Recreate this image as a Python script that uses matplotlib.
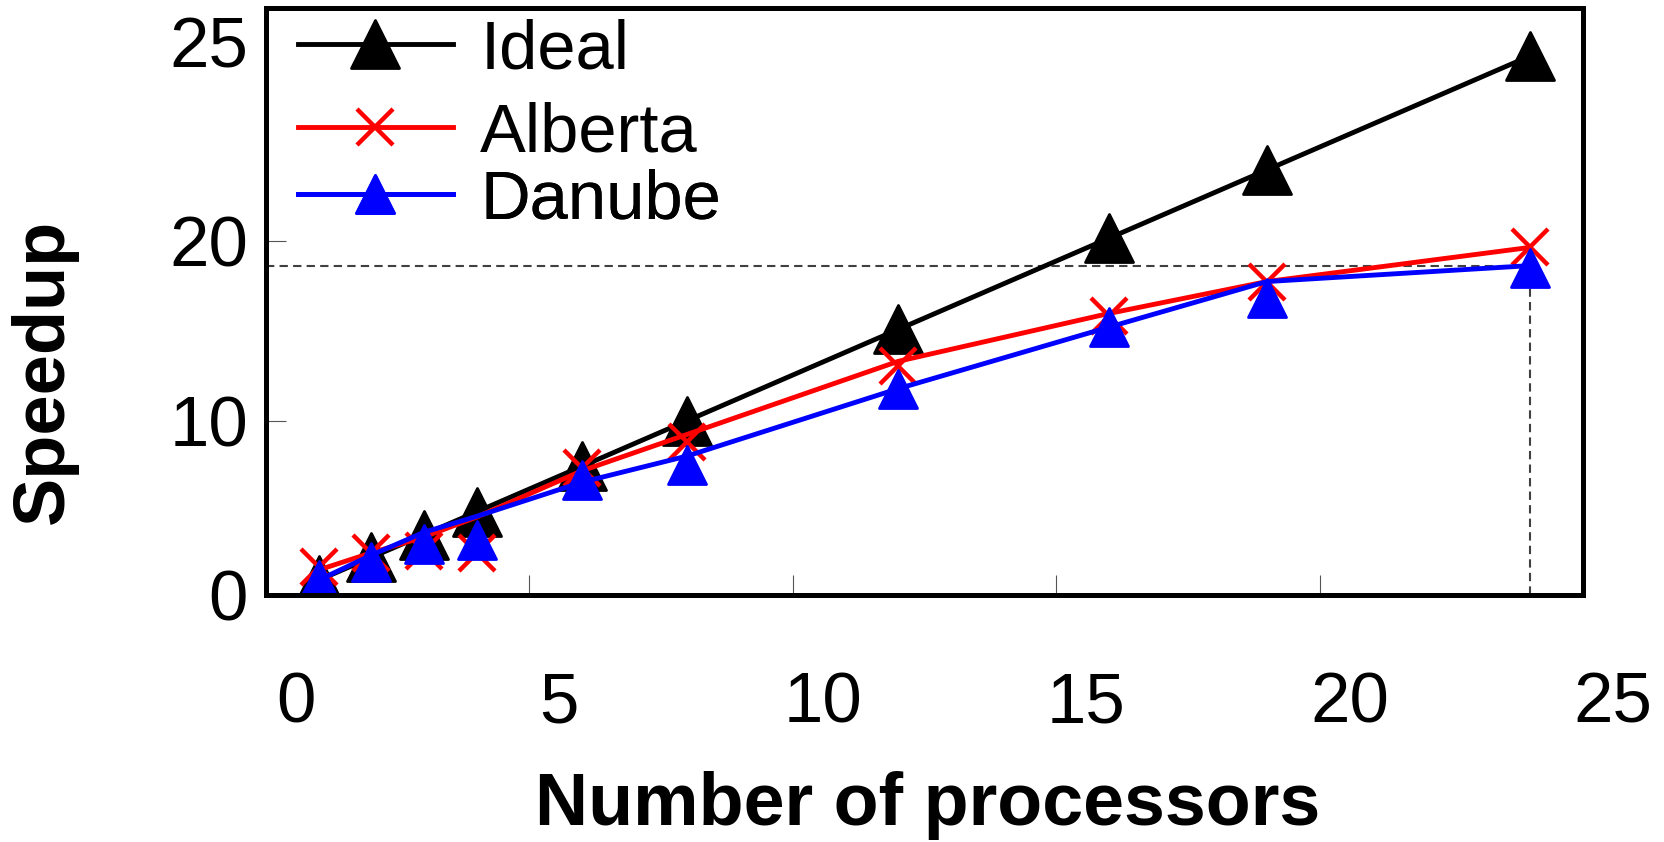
import matplotlib
matplotlib.use('Agg')
from matplotlib import pyplot as plt
from matplotlib.lines import Line2D
from matplotlib.markers import MarkerStyle
from matplotlib.transforms import ScaledTranslation

plt.rcParams['font.family'] = ['Liberation Sans', 'DejaVu Sans']

# values
procs = [1, 2, 3, 4, 6, 8, 12, 16, 19, 24]
ideal = [1, 2, 3, 4, 6, 8, 12, 16, 19, 24]
alberta_line = [1.45, 2.2, 2.9, 3.77, 5.8, 7.4, 10.6, 12.7, 14.1, 15.6]
alberta_pts = [1.6, 2.2, 2.3, 2.2, 5.9, 7.05, 10.4, 12.6, 14.1, 15.6]
danube_line = [1.0, 2.1, 3.1, 3.8, 5.3, 6.45, 9.4, 12.1, 14.1, 14.8]
danube_pts = [1.0, 1.8, 2.6, 2.76, 5.4, 6.05, 9.4, 12.1, 13.4, 14.7]

xtick_vals = [0, 5, 10, 15, 20, 25]
ytick_vals = [0.35, 7.98, 15.9, 24.6]
ytick_labs = ['0', '10', '20', '25']

W, H = 1664, 842
fig = plt.figure(figsize=(W/100, H/100), dpi=100)
ax = fig.add_axes([266/W, 1-595/H, 1317/W, 587/H])

tri = MarkerStyle('^', joinstyle='round')
lw = 3.5
big, small = 34, 27

ax.plot(procs, ideal, color='k', lw=lw, zorder=3)
ax.plot(procs, ideal, ls='none', marker=tri, ms=big, mfc='k', mec='k', mew=2, zorder=3)
ax.plot(procs, alberta_line, color='#ff0000', lw=lw, zorder=4)
ax.plot(procs, alberta_pts, ls='none', marker='x', ms=26, mec='#ff0000', mew=3.2, zorder=4)
ax.plot(procs, danube_line, color='#0000ff', lw=lw, zorder=5)
ax.plot(procs, danube_pts, ls='none', marker=tri, ms=small, mfc='#0000ff', mec='#0000ff', mew=2, zorder=5)

ax.set_xlim(0, 25)
ax.set_ylim(0.35, 26.1)

# dashed guide at the last Danube value
y0 = ax.get_ylim()[0]
ax.plot([0, procs[-1], procs[-1]], [danube_line[-1], danube_line[-1], y0],
        ls=(0, (4, 2.5)), color='#404040', lw=1.5, zorder=2)

for s in ax.spines.values():
    s.set_linewidth(3.6)
    s.set_zorder(10)

ax.set_xticks(xtick_vals)
ax.set_xticklabels([str(v) for v in xtick_vals])
ax.set_yticks(ytick_vals)
ax.set_yticklabels(ytick_labs)
ax.tick_params(axis='both', direction='in', length=14.4, width=0.8, color='#555555',
               labelsize=51)
ax.tick_params(axis='x', pad=55)
ax.tick_params(axis='y', pad=13)
ax.yaxis.get_major_ticks()[-1].tick1line.set_visible(False)
shift = ScaledTranslation(0.30, 0, fig.dpi_scale_trans)
for lab in ax.get_xticklabels():
    lab.set_transform(lab.get_transform() + shift)

fig.text(928/W, 1-825/H, 'Number of processors', ha='center', va='baseline',
         fontsize=53, fontweight='bold')
fig.text(44/W, 1-371/H, 'Speedup', ha='center', va='center', rotation=90,
         fontsize=52, fontweight='bold')

# legend: one entry per box so the rows sit where they do in the original
entries = [
    (Line2D([], [], color='k', lw=lw, marker=tri, ms=big, mfc='k', mec='k', mew=2), 'Ideal', 0.928),
    (Line2D([], [], color='#ff0000', lw=lw, marker='x', ms=26, mec='#ff0000', mew=3.2), 'Alberta', 0.787),
    (Line2D([], [], color='#0000ff', lw=lw, marker=tri, ms=small, mfc='#0000ff', mec='#0000ff', mew=2), 'Danube', 0.672),
]
for h, name, fy in entries:
    leg = ax.legend(handles=[h], labels=[name], loc='center left',
                    bbox_to_anchor=(0.0243, fy), frameon=False, borderpad=0,
                    borderaxespad=0, handlelength=2.25, handletextpad=0.4,
                    fontsize=49.5)
    ax.add_artist(leg)

fig.savefig('out.png', dpi=100)
